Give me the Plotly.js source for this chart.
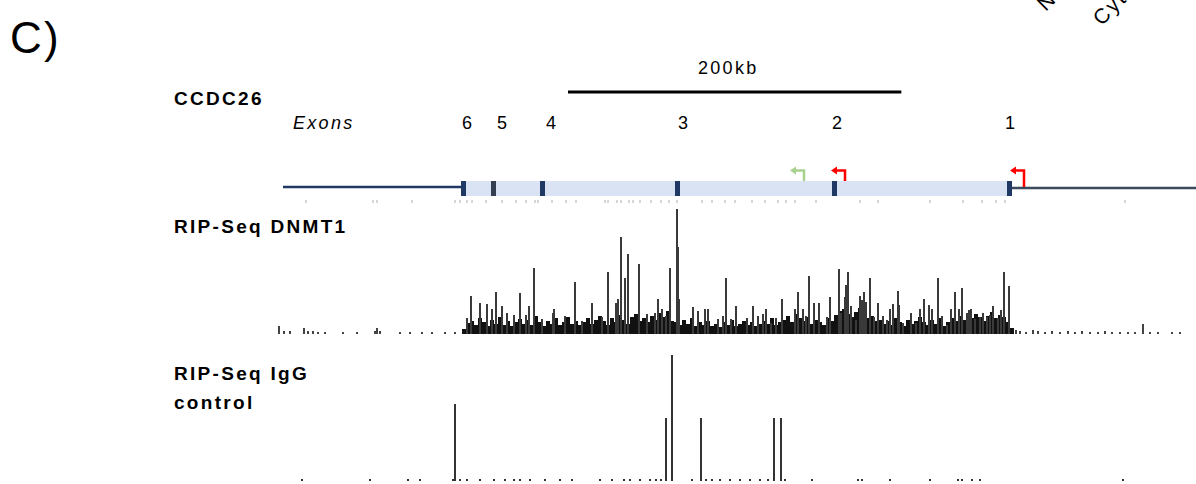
<!DOCTYPE html>
<html><head><meta charset="utf-8">
<script src="https://cdn.plot.ly/plotly-3.0.1.min.js"></script>
<style>
html,body{margin:0;padding:0;background:#fff}
.annotation-text{letter-spacing:2.3px}
</style>
</head><body>
<div id="chart" style="width:1196px;height:484px"></div>
<script>
// ---------- data (genomic positions in kb from the left edge of the window) ----------
const exonNumbers   = ['6','5','4','3','2','1'];
const exonStartKb   = [109.8, 127.8, 157.2, 238.2, 332.4, 437.4];
const exonLabelKb   = [114.0, 135.0, 164.4, 243.6, 336.0, 439.8];
const exonColors    = ['#1f3864','#333f50','#1f3864','#1f3864','#1f3864','#1f3864'];
const geneSpanKb    = [110.0, 440.0];
const flankLeftKb   = [3.0, 110.0];
const flankRightKb  = [440.0, 551.0];
const scaleBarKb    = [174.0, 374.0];
const scaleBarLabel = '200kb';
const tssKb         = [315.6, 340.2, 447.6];
const tssColors     = ['#a9d18e', '#ff0000', '#ff0000'];

// faint annotation track just below the gene model
const faintTrackKb = [16.8,57.0,59.4,80.4,106.2,109.2,113.4,116.4,124.8,134.4,142.8,148.8,154.2,156.0,164.4,172.8,178.8,196.2,198.0,203.4,205.8,210.6,213.0,
  217.2,223.8,229.8,234.6,239.4,254.4,260.4,268.2,274.2,284.4,292.2,300.0,304.8,310.2,322.8,349.2,360.0,391.2,411.0,422.4,430.8,436.2,508.2];

// RIP-Seq DNMT1 : tall peaks
const dnmt1PeakKb = [113.4,115.8,121.2,125.4,128.4,130.8,134.4,137.4,141.6,145.2,148.8,150.6,153.6,158.4,165.0,165.6,172.2,178.2,182.4,188.4,194.4,198.0,202.8,204.0,205.8,208.2,210.0,216.6,
  221.4,226.2,228.0,230.4,232.8,235.2,239.4,240.0,240.6,249.0,252.0,256.2,258.0,264.0,267.0,268.8,271.8,274.8,281.4,285.0,288.0,291.0,292.8,295.8,298.8,302.4,310.2,312.0,315.0,316.8,318.6,321.6,324.6,329.4,
  331.2,336.6,337.8,340.2,340.8,342.0,343.8,346.8,349.2,350.4,351.6,352.8,355.2,357.6,360.0,363.0,365.4,367.2,369.0,372.0,372.6,375.0,379.8,382.8,385.2,387.6,390.6,392.4,396.0,398.4,401.4,403.8,406.2,408.6,410.4,413.4,414.6,415.8,418.2,421.2,423.0,425.4,427.2,429.0,432.0,433.8,435.6,438.6];
const dnmt1PeakVal = [16,38,31,30,25,42,28,21,19,41,19,28,66,15,21,25,18,52,13,31,17,62,31,35,97,56,80,70,
  20,21,35,25,18,66,125,87,35,27,23,25,25,15,18,56,15,28,16,28,18,20,25,11,16,35,25,42,25,18,58,31,31,17,
  37,65,21,37,49,62,28,14,38,34,42,32,56,17,31,18,14,25,30,43,29,11,21,11,25,35,29,25,56,18,9,25,42,25,46,21,24,25,15,17,21,17,19,28,16,24,62,48];

// RIP-Seq DNMT1 : dense coverage, 2.4 kb bins starting at 111.6 kb
const dnmt1BinStartKb = 111.6;
const dnmt1BinKb = 2.4;
const dnmt1Coverage = [5,11,13,9,16,12,8,14,10,17,9,13,8,12,15,
  10,14,9,18,12,8,13,10,16,9,12,17,10,13,9,
  12,16,10,14,18,13,9,16,12,19,14,10,17,20,13,
  16,12,18,14,21,17,23,13,12,9,14,10,16,8,12,
  9,13,8,10,7,12,9,14,8,10,13,9,12,8,10,
  13,10,16,9,12,14,18,12,20,16,13,17,10,14,12,
  9,16,13,19,23,25,20,17,22,26,19,16,18,13,14,
  10,13,9,16,12,8,14,10,13,17,12,9,14,10,16,
  8,12,16,13,18,14,19,16,20,17,13,18,22,16,19,
  17,12,6];

// RIP-Seq DNMT1 : background outside the gene
const dnmt1BgKb  = [0.6,3.6,7.2,15.6,18.0,21.0,24.0,28.2,39.0,47.4,58.2,59.4,61.2,73.2,79.2,86.4,92.4,100.2,106.2,
  442.8,445.2,448.8,453.0,456.0,460.2,464.4,469.2,474.0,478.2,482.4,487.2,492.0,496.2,500.4,505.2,510.0,514.2,519.0,523.2,528.0,536.4,541.2];
const dnmt1BgVal = [8,3,3,6,3,3,2,2,2,2,3,6,3,2,2,2,2,2,2,
  4,3,2,4,3,2,3,2,3,2,3,2,2,3,2,2,2,2,10,2,2,2,2];

// RIP-Seq IgG control
const iggKb  = [106.2,232.8,236.4,253.8,297.6,301.8,
  14.4,55.2,78.0,85.2,105.0,109.2,113.4,121.2,129.6,136.2,141.6,145.2,151.2,160.2,169.2,176.4,193.2,200.4,207.6,211.2,217.2,223.2,226.8,229.8,
  248.4,256.8,260.4,265.2,271.2,277.2,283.2,289.2,294.0,304.2,320.4,348.0,350.4,367.2,391.2,408.0,410.4,416.4,421.2,507.0];
const iggVal = [77,63,126,63,63,63,
  2,2,2,2,2,2,2,2,2,2,2,2,2,2,2,2,2,2,2,2,2,2,2,2,
  2,2,2,2,2,2,2,2,2,2,2,2,2,2,2,2,2,2,2,2];

// ---------- drawing ----------
const FONT = 'Liberation Sans, Arial, sans-serif';
const W = 1196, H = 484;
const PX = 0.6; // kb per pixel
const xr = [-278*PX, (W-278)*PX];

const dnmt1BinKbList = dnmt1Coverage.map((v,i)=>dnmt1BinStartKb + i*dnmt1BinKb);

const traces = [
  {type:'scatter', x:[0], y:[0], xaxis:'x', yaxis:'y', mode:'markers', marker:{opacity:0}, hoverinfo:'skip', showlegend:false},
  {type:'bar', x:faintTrackKb, y:faintTrackKb.map(()=>1), xaxis:'x', yaxis:'y4', width:1.1,
   marker:{color:'#d6d6d6', line:{width:0}}, showlegend:false},
  {type:'bar', x:dnmt1BinKbList, y:dnmt1Coverage, xaxis:'x', yaxis:'y2', width:2.0,
   marker:{color:'#111111', line:{width:0}}, showlegend:false},
  {type:'bar', x:dnmt1PeakKb, y:dnmt1PeakVal, xaxis:'x', yaxis:'y2', width:0.75,
   marker:{color:'#3a3a3a', line:{width:0}}, showlegend:false},
  {type:'bar', x:dnmt1BgKb, y:dnmt1BgVal, xaxis:'x', yaxis:'y2', width:0.75,
   marker:{color:'#444444', line:{width:0}}, showlegend:false},
  {type:'bar', x:iggKb, y:iggVal, xaxis:'x', yaxis:'y3', width:0.75,
   marker:{color:'#333333', line:{width:0}}, showlegend:false}
];

const shapes = [];
shapes.push({type:'line', xref:'x', yref:'y', x0:flankLeftKb[0], x1:flankLeftKb[1], y0:187, y1:187, line:{color:'#1f3864', width:2.5}});
shapes.push({type:'line', xref:'x', yref:'y', x0:flankRightKb[0], x1:flankRightKb[1], y0:188, y1:188, line:{color:'#3b4a5e', width:2.5}});
shapes.push({type:'rect', xref:'x', yref:'y', x0:geneSpanKb[0], x1:geneSpanKb[1], y0:181, y1:196, fillcolor:'#dae3f3', line:{width:0}});
exonStartKb.forEach((s,i)=>shapes.push({type:'rect', xref:'x', yref:'y', x0:s, x1:s+3.0, y0:181, y1:196, fillcolor:exonColors[i], line:{width:0}}));
shapes.push({type:'line', xref:'x', yref:'y', x0:scaleBarKb[0], x1:scaleBarKb[1], y0:92, y1:92, line:{color:'#000', width:3}});
tssKb.forEach((t,i)=>{
  const yb = i===2 ? 187 : 181;
  shapes.push({type:'path', xref:'x', yref:'y', path:`M${t},${yb} L${t},170.5 L${t-5.4},170.5`, line:{color:tssColors[i], width:2.5}});
  shapes.push({type:'path', xref:'x', yref:'y', path:`M${t-8.4},170.5 L${t-4.8},166.5 L${t-4.8},174.5 Z`, fillcolor:tssColors[i], line:{width:0}});
});

const ann = [];
const P = (px)=>px/W, Q = (py)=>1-py/H;
function txt(t, px, py, size, opts={}){
  ann.push(Object.assign({text:t, xref:'paper', yref:'paper', x:P(px), y:Q(py), xanchor:'left', yanchor:'middle',
    showarrow:false, font:{family:FONT, size:size, color:'#000'}}, opts));
}
const bold = (s)=>({font:{family:FONT, size:s, color:'#000', weight:'bold'}});
txt('C)', 8, 38, 44);
txt('CCDC26', 172, 98, 19, bold(19));
txt('<i>Exons</i>', 291, 123, 18);
txt(scaleBarLabel, 728, 68, 18, {xanchor:'center'});
exonNumbers.forEach((n,i)=>ann.push({text:n, xref:'x', yref:'paper', x:exonLabelKb[i], y:Q(123), xanchor:'center', yanchor:'middle', showarrow:false, font:{family:FONT, size:18, color:'#000'}}));
txt('RIP-Seq DNMT1', 172, 226, 19, bold(19));
txt('RIP-Seq IgG', 172, 373, 19, bold(19));
txt('control', 172, 402, 19, bold(19));
txt('Nuclear', 1072, -24, 21, {xanchor:'center', textangle:-45});
txt('Cytoplasmic', 1146, -28, 21, {xanchor:'center', textangle:-45});

const layout = {
  width:W, height:H, margin:{l:0,r:0,t:0,b:0}, paper_bgcolor:'#fff', plot_bgcolor:'rgba(0,0,0,0)',
  showlegend:false, barmode:'overlay', bargap:0,
  xaxis:{range:xr, domain:[0,1], visible:false, fixedrange:true},
  yaxis:{range:[H,0], domain:[0,1], visible:false, fixedrange:true},
  yaxis2:{range:[0,125], domain:[Q(334), Q(209)], visible:false, fixedrange:true},
  yaxis3:{range:[0,126], domain:[Q(481), Q(355)], visible:false, fixedrange:true},
  yaxis4:{range:[0,1], domain:[Q(203), Q(200)], visible:false, fixedrange:true},
  shapes:shapes, annotations:ann
};
Plotly.newPlot('chart', traces, layout, {displayModeBar:false, staticPlot:true});
</script>
</body></html>
